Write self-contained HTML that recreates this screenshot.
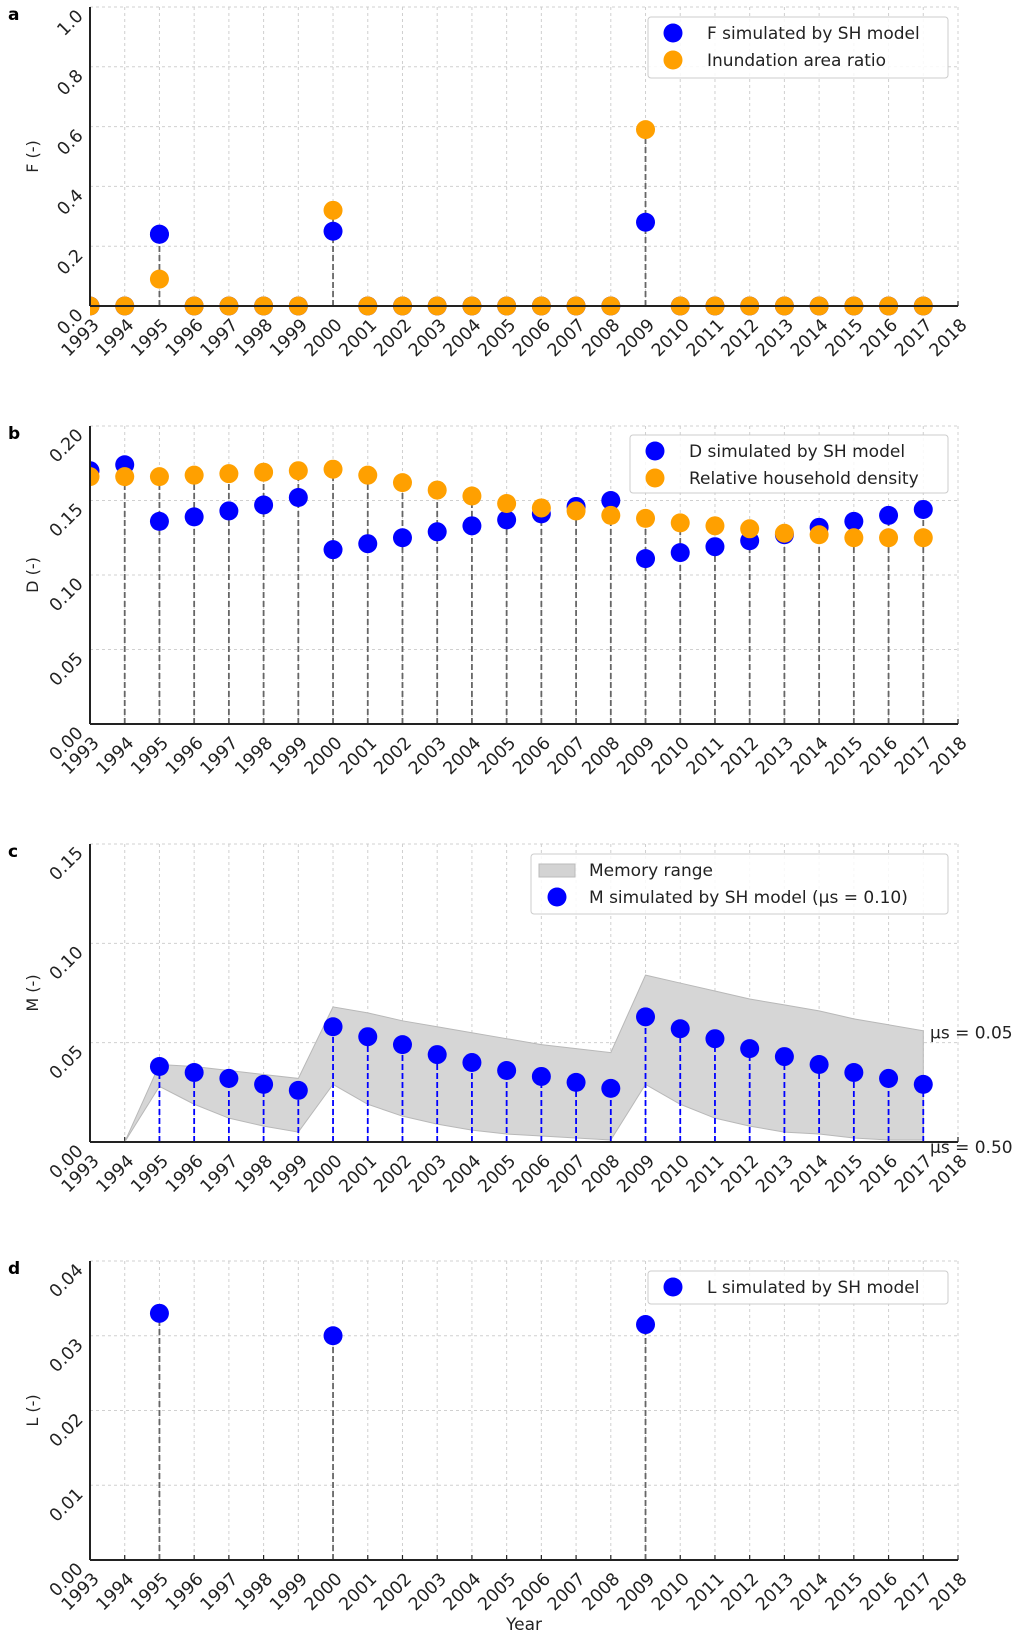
<!DOCTYPE html>
<html><head><meta charset="utf-8"><style>
body{margin:0;background:#fff}
svg{display:block;font-family:"DejaVu Sans","Liberation Sans",sans-serif}
</style></head><body>
<svg id="chart" width="1023" height="1637" viewBox="0 0 1023 1637" xmlns="http://www.w3.org/2000/svg"></svg>
<script>
const years = [1993,1994,1995,1996,1997,1998,1999,2000,2001,2002,2003,2004,2005,2006,2007,2008,2009,2010,2011,2012,2013,2014,2015,2016,2017,2018];
const dataYears = years.slice(0,25);
const fSim = [0,0,0.24,0,0,0,0,0.25,0,0,0,0,0,0,0,0,0.28,0,0,0,0,0,0,0,0];
const fObs = [0,0,0.09,0,0,0,0,0.32,0,0,0,0,0,0,0,0,0.59,0,0,0,0,0,0,0,0];
const dSim = [0.170,0.174,0.136,0.139,0.143,0.147,0.152,0.117,0.121,0.125,0.129,0.133,0.137,0.141,0.146,0.150,0.111,0.115,0.119,0.123,0.127,0.132,0.136,0.140,0.144];
const dObs = [0.166,0.166,0.166,0.167,0.168,0.169,0.170,0.171,0.167,0.162,0.157,0.153,0.148,0.145,0.143,0.140,0.138,0.135,0.133,0.131,0.128,0.127,0.125,0.125,0.125];
const mYears = [1995,1996,1997,1998,1999,2000,2001,2002,2003,2004,2005,2006,2007,2008,2009,2010,2011,2012,2013,2014,2015,2016,2017];
const mSim = [0.038,0.035,0.032,0.029,0.026,0.058,0.053,0.049,0.044,0.040,0.036,0.033,0.030,0.027,0.063,0.057,0.052,0.047,0.043,0.039,0.035,0.032,0.029];
const bandYears = [1994,1995,1996,1997,1998,1999,2000,2001,2002,2003,2004,2005,2006,2007,2008,2009,2010,2011,2012,2013,2014,2015,2016,2017];
const bandHigh = [0,0.039,0.038,0.036,0.034,0.032,0.068,0.065,0.061,0.058,0.055,0.052,0.049,0.047,0.045,0.084,0.080,0.076,0.072,0.069,0.066,0.062,0.059,0.056];
const bandLow = [0,0.028,0.019,0.012,0.008,0.005,0.029,0.019,0.013,0.009,0.006,0.004,0.003,0.002,0.001,0.029,0.019,0.012,0.008,0.005,0.004,0.002,0.001,0.001];
const lYears = [1995,2000,2009];
const lSim = [0.033,0.030,0.0315];
const fTicks = ['0.0','0.2','0.4','0.6','0.8','1.0'];
const dTicks = ['0.00','0.05','0.10','0.15','0.20'];
const mTicks = ['0.00','0.05','0.10','0.15'];
const lTicks = ['0.00','0.01','0.02','0.03','0.04'];

const NS='http://www.w3.org/2000/svg';
const svg=document.getElementById('chart');
function el(tag,attrs,parent,text){const e=document.createElementNS(NS,tag);for(const k in attrs)e.setAttribute(k,attrs[k]);if(text!==undefined)e.textContent=text;(parent||svg).appendChild(e);return e;}
const X0=90,X1=958;
function xs(y){return X0+(y-1993)*(X1-X0)/25;}
const defs=el('defs',{});

function panel(letter,top,bottom,ymax,ticks,ylabel){
  const g=el('g',{});
  
  
  const ys=v=>bottom-v/ymax*(bottom-top);
  const cp=el('clipPath',{id:'clip-'+letter},defs);
  el('rect',{x:X0,y:top-12,width:X1-X0+12,height:bottom-top+27},cp);
  const pl=el('text',{x:8,y:top+13,'font-size':17,'font-weight':'bold',fill:'#000'},g,letter);
  
  
  years.forEach(y=>{const l=el('line',{x1:xs(y),x2:xs(y),y1:top,y2:bottom,stroke:'#d0d0d0','stroke-dasharray':'3,3','stroke-width':1},g);
    });
  ticks.forEach(t=>{const v=parseFloat(t);const l=el('line',{x1:X0,x2:X1,y1:ys(v),y2:ys(v),stroke:'#d0d0d0','stroke-dasharray':'3,3','stroke-width':1},g);
    
    const tx=el('text',{x:0,y:0,'font-size':17.5,fill:'#222','text-anchor':'end',transform:`translate(${X0-6},${ys(v)+10}) rotate(-45)`},g,t);
    });
  years.forEach(y=>{const tk=el('line',{x1:xs(y),x2:xs(y),y1:bottom,y2:bottom-5,stroke:'#222','stroke-width':1.2},g);
    
    const tx=el('text',{x:0,y:0,'font-size':17.5,fill:'#222','text-anchor':'end',transform:`translate(${xs(y)+10},${bottom+20}) rotate(-45)`},g,String(y));
    });
  const yt=el('text',{x:0,y:0,'font-size':16,fill:'#222','text-anchor':'middle',transform:`translate(38,${(top+bottom)/2}) rotate(-90)`},g,ylabel);
  
  const m=el('g',{'clip-path':`url(#clip-${letter})`},g);
  
  
  return {g,m,ys,top,bottom};
}
function axes(p){
  const a=el('line',{x1:X0,x2:X0,y1:p.top,y2:p.bottom,stroke:'#222','stroke-width':2},p.g);
  
  const b=el('line',{x1:X0,x2:X1,y1:p.bottom,y2:p.bottom,stroke:'#222','stroke-width':2},p.g);
  
}
function stem(p,year,v,color){const l=el('line',{x1:xs(year),x2:xs(year),y1:p.bottom,y2:p.ys(v),stroke:color,'stroke-width':1.8,'stroke-dasharray':'6,3'},p.m);
  }
function dot(p,year,v,color,name){const c=el('circle',{cx:xs(year),cy:p.ys(v),r:9.5,fill:color},p.m);
  }
function legend(g,x,y,w,h,rows){
  const bx=el('rect',{x:x,y:y,width:w,height:h,rx:3,fill:'#fff','fill-opacity':0.85,stroke:'#ccc','stroke-width':1},g);
  
  rows.forEach((r,i)=>{const cy=y+16+i*27;
    if(r.type==='patch'){const pr=el('rect',{x:x+8,y:cy-6,width:36,height:13,fill:'#d3d3d3',stroke:'#bbb'},g);}
    else{const c=el('circle',{cx:x+r.mx,cy:cy,r:9.5,fill:r.color},g);}
    const t=el('text',{x:x+r.tx,y:cy+6,'font-size':17,fill:'#222'},g,r.label);});
}
// Panel a
const pa=panel('a',7,306,1.0,fTicks,'F (-)');
dataYears.forEach((y,i)=>{const m=Math.max(fSim[i],fObs[i]);if(m>0)stem(pa,y,m,'#666');});
axes(pa);
dataYears.forEach((y,i)=>dot(pa,y,fSim[i],'#0000ff','f-simulated-point'));
dataYears.forEach((y,i)=>dot(pa,y,fObs[i],'#ffa000','inundation-point'));
dataYears.forEach((y,i)=>{if(fSim[i]>0&&fSim[i]>fObs[i])dot(pa,y,fSim[i],'#0000ff','f-simulated-point');});
legend(pa.g,648,17,300,61,[{color:'#0000ff',mx:25,tx:59,label:'F simulated by SH model'},{color:'#ffa000',mx:25,tx:59,label:'Inundation area ratio'}]);
// Panel b
const pb=panel('b',426,724,0.20,dTicks,'D (-)');
dataYears.forEach((y,i)=>stem(pb,y,Math.max(dSim[i],dObs[i]),'#666'));
dataYears.forEach((y,i)=>dot(pb,y,dSim[i],'#0000ff','d-simulated-point'));
dataYears.forEach((y,i)=>dot(pb,y,dObs[i],'#ffa000','household-density-point'));
axes(pb);
legend(pb.g,630,435,318,58,[{color:'#0000ff',mx:25,tx:59,label:'D simulated by SH model'},{color:'#ffa000',mx:25,tx:59,label:'Relative household density'}]);
// Panel c
const pc=panel('c',844,1142,0.15,mTicks,'M (-)');
let d='';bandYears.forEach((y,i)=>{d+=(i?'L':'M')+xs(y)+','+pc.ys(bandHigh[i]);});
for(let i=bandYears.length-1;i>=0;i--)d+='L'+xs(bandYears[i])+','+pc.ys(bandLow[i]);
const band=el('path',{d:d+'Z',fill:'#d6d6d6',stroke:'#b8b8b8','stroke-width':1},pc.m);

mYears.forEach((y,i)=>stem(pc,y,mSim[i],'#0000ff'));
mYears.forEach((y,i)=>dot(pc,y,mSim[i],'#0000ff','m-simulated-point'));
axes(pc);
const la=el('text',{x:930,y:pc.ys(bandHigh[bandHigh.length-1])+8,'font-size':17,fill:'#222'},pc.g,'µs = 0.05');

const lb=el('text',{x:930,y:pc.ys(bandLow[bandLow.length-1])+13,'font-size':17,fill:'#222'},pc.g,'µs = 0.50');

legend(pc.g,531,854,417,60,[{type:'patch',tx:58,label:'Memory range'},{color:'#0000ff',mx:26,tx:58,label:'M simulated by SH model (µs = 0.10)'}]);
// Panel d
const pd=panel('d',1261,1560,0.04,lTicks,'L (-)');
lYears.forEach((y,i)=>stem(pd,y,lSim[i],'#666'));
lYears.forEach((y,i)=>dot(pd,y,lSim[i],'#0000ff','l-simulated-point'));
axes(pd);
legend(pd.g,648,1271,300,33,[{color:'#0000ff',mx:25,tx:59,label:'L simulated by SH model'}]);
const xt=el('text',{x:524,y:1630,'font-size':17,fill:'#222','text-anchor':'middle'},svg,'Year');


</script>
</body></html>
